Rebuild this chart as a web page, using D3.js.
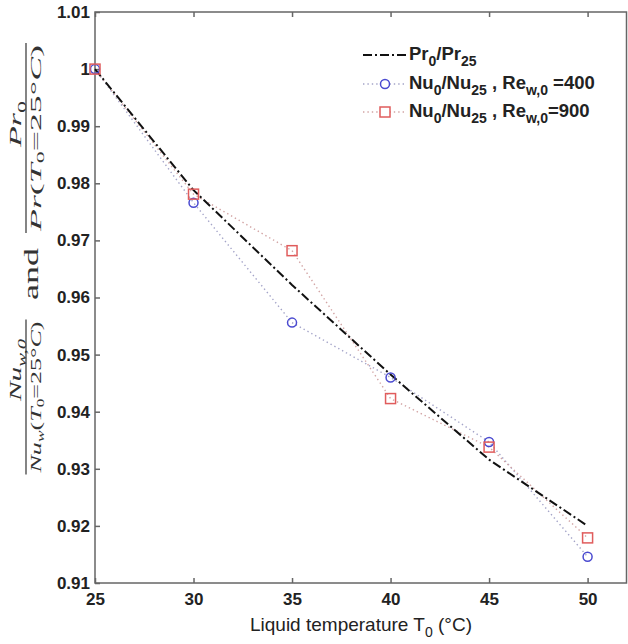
<!DOCTYPE html>
<html>
<head>
<meta charset="utf-8">
<script src="https://cdn.jsdelivr.net/npm/d3@7"></script>
<style>
  body { margin: 0; background: #fff; }
  svg { display: block; }
</style>
</head>
<body>
<svg id="chart" width="628" height="644"></svg>
<script>
// values
const temps = [25, 30, 35, 40, 45, 50];
const prRatio = [1.0, 0.9788, 0.9622, 0.9465, 0.9316, 0.9200];
const nuRe400 = [1.0, 0.9766, 0.9556, 0.9460, 0.9347, 0.9146];
const nuRe900 = [1.0, 0.9781, 0.9682, 0.9423, 0.9338, 0.9179];

const xTicks = [25, 30, 35, 40, 45, 50];
const yTicks = [0.91, 0.92, 0.93, 0.94, 0.95, 0.96, 0.97, 0.98, 0.99, 1.0, 1.01];
const yTickLabels = ['0.91', '0.92', '0.93', '0.94', '0.95', '0.96', '0.97', '0.98', '0.99', '1', '1.01'];

const xLabel = [{t: 'Liquid temperature T'}, {t: '0', sub: true}, {t: ' (°C)'}];
const legendLabels = [
  [{t: 'Pr'}, {t: '0', sub: true}, {t: '/Pr'}, {t: '25', sub: true}],
  [{t: 'Nu'}, {t: '0', sub: true}, {t: '/Nu'}, {t: '25', sub: true}, {t: ' , Re'}, {t: 'w,0', sub: true}, {t: ' =400'}],
  [{t: 'Nu'}, {t: '0', sub: true}, {t: '/Nu'}, {t: '25', sub: true}, {t: ' , Re'}, {t: 'w,0', sub: true}, {t: '=900'}]
];

const svg = d3.select('#chart');
const x = d3.scaleLinear().domain([25, 52]).range([95, 627]);
const y = d3.scaleLinear().domain([0.91, 1.01]).range([583, 12]);

const axisColor = '#666';
const blue = '#4a4ad0', red = '#e05c5c';
const blueDot = '#a4a4c8', redDot = '#d2a4a4';

// text with sub-scripts made of tspans
function richText(parent, segs, subSize, subShift) {
  const t = parent.append('text');
  let cur = 0;
  segs.forEach(s => {
    const ts = t.append('tspan').text(s.t);
    const target = s.sub ? subShift : 0;
    if (target !== cur) ts.attr('dy', target - cur);
    cur = target;
    if (s.sub) ts.attr('font-size', subSize);
    if (s.it) ts.attr('font-style', 'italic');
  });
  return t;
}

// axes
const gx = svg.append('g').attr('transform', 'translate(0,583)')
  .call(d3.axisBottom(x).tickValues(xTicks).tickSize(-5).tickPadding(10));
const gxTop = svg.append('g').attr('transform', 'translate(0,12)')
  .call(d3.axisTop(x).tickValues(xTicks).tickSize(-5).tickFormat(''));
const gy = svg.append('g').attr('transform', 'translate(95,0)')
  .call(d3.axisLeft(y).tickValues(yTicks).tickSize(-5).tickPadding(5)
    .tickFormat((d, i) => yTickLabels[i]));

[gx, gxTop, gy].forEach(g => {
  g.select('.domain').remove();
  g.selectAll('.tick line').attr('stroke', axisColor).attr('stroke-width', 1.5);
  g.selectAll('.tick text')
    .attr('fill', '#222')
    .attr('font-family', 'Liberation Sans, Arial, sans-serif')
    .attr('font-weight', 'bold')
    .attr('font-size', 17);
});

svg.append('rect')
  .attr('x', 95).attr('y', 12)
  .attr('width', 626.5 - 95).attr('height', 583 - 12)
  .attr('fill', 'none').attr('stroke', axisColor).attr('stroke-width', 1.5);

// series
const line = d3.line().x(d => x(d[0])).y(d => y(d[1]));

svg.append('path')
  .datum(temps.map((t, i) => [t, nuRe400[i]]))
  .attr('d', line).attr('fill', 'none')
  .attr('stroke', blueDot).attr('stroke-width', 1.4).attr('stroke-dasharray', '1.4,3');
svg.append('path')
  .datum(temps.map((t, i) => [t, nuRe900[i]]))
  .attr('d', line).attr('fill', 'none')
  .attr('stroke', redDot).attr('stroke-width', 1.4).attr('stroke-dasharray', '1.4,3');
svg.append('path')
  .datum(temps.map((t, i) => [t, prRatio[i]]))
  .attr('d', line).attr('fill', 'none')
  .attr('stroke', '#111').attr('stroke-width', 2).attr('stroke-dasharray', '9,3,2,3');

svg.selectAll('circle.re400')
  .data(temps.map((t, i) => [t, nuRe400[i]]))
  .join('circle').attr('class', 're400')
  .attr('cx', d => x(d[0])).attr('cy', d => y(d[1])).attr('r', 4.5)
  .attr('fill', 'none').attr('stroke', blue).attr('stroke-width', 1.5);

svg.selectAll('rect.re900')
  .data(temps.map((t, i) => [t, nuRe900[i]]))
  .join('rect').attr('class', 're900')
  .attr('x', d => x(d[0]) - 5).attr('y', d => y(d[1]) - 5)
  .attr('width', 10).attr('height', 10)
  .attr('fill', 'none').attr('stroke', red).attr('stroke-width', 1.5);

// legend
const legY = [55, 84, 112];
const leg = svg.append('g');
leg.append('line').attr('x1', 363).attr('x2', 407).attr('y1', legY[0]).attr('y2', legY[0])
  .attr('stroke', '#111').attr('stroke-width', 2).attr('stroke-dasharray', '9,3,2,3');
leg.append('line').attr('x1', 363).attr('x2', 407).attr('y1', legY[1]).attr('y2', legY[1])
  .attr('stroke', blueDot).attr('stroke-width', 1.4).attr('stroke-dasharray', '1.4,3');
leg.append('circle').attr('cx', 385).attr('cy', legY[1]).attr('r', 4.5)
  .attr('fill', '#fff').attr('stroke', blue).attr('stroke-width', 1.5);
leg.append('line').attr('x1', 363).attr('x2', 407).attr('y1', legY[2]).attr('y2', legY[2])
  .attr('stroke', redDot).attr('stroke-width', 1.4).attr('stroke-dasharray', '1.4,3');
leg.append('rect').attr('x', 380).attr('y', legY[2] - 5).attr('width', 10).attr('height', 10)
  .attr('fill', '#fff').attr('stroke', red).attr('stroke-width', 1.5);

legendLabels.forEach((segs, i) => {
  richText(leg, segs, 14, 6)
    .attr('x', 409).attr('y', legY[i] + 5)
    .attr('font-family', 'Liberation Sans, Arial, sans-serif')
    .attr('font-weight', 'bold').attr('font-size', 18.5).attr('fill', '#222');
});

// x label
richText(svg, xLabel, 14, 6)
  .attr('x', 361).attr('y', 631).attr('text-anchor', 'middle')
  .attr('font-family', 'Liberation Sans, Arial, sans-serif')
  .attr('font-size', 19).attr('fill', '#222');

// y label: two stacked fractions, rotated; (u, v) = (-screenY, screenX)
const yl = svg.append('g').attr('transform', 'rotate(-90)')
  .attr('font-family', 'Liberation Serif, Times New Roman, serif').attr('fill', '#333');

function frac(num, den, uMid, len, numMid, numLen) {
  yl.append('line').attr('x1', uMid - len / 2).attr('x2', uMid + len / 2)
    .attr('y1', 26).attr('y2', 26).attr('stroke', '#333').attr('stroke-width', 1.2);
  richText(yl, num, 12, 5)
    .attr('x', numMid).attr('y', 21).attr('text-anchor', 'middle').attr('font-size', 17)
    .attr('textLength', numLen).attr('lengthAdjust', 'spacingAndGlyphs');
  richText(yl, den, 10, 3)
    .attr('x', uMid).attr('y', 41).attr('text-anchor', 'middle').attr('font-size', 15)
    .attr('textLength', len - 4).attr('lengthAdjust', 'spacingAndGlyphs');
}

frac([{t: 'Nu', it: true}, {t: 'w,0', it: true, sub: true}],
     [{t: 'Nu', it: true}, {t: 'w', it: true, sub: true}, {t: '('}, {t: 'T', it: true},
      {t: '0', sub: true}, {t: '=25°'}, {t: 'C', it: true}, {t: ')'}],
     -397, 155, -370, 62);

yl.append('text').attr('x', -274).attr('y', 38).attr('text-anchor', 'middle')
  .attr('font-size', 22).attr('textLength', 52).attr('lengthAdjust', 'spacingAndGlyphs')
  .text('and');

frac([{t: 'Pr', it: true}, {t: '0', sub: true}],
     [{t: 'Pr', it: true}, {t: '('}, {t: 'T', it: true},
      {t: '0', sub: true}, {t: '=25°'}, {t: 'C', it: true}, {t: ')'}],
     -138, 190, -124, 46);
</script>
</body>
</html>
